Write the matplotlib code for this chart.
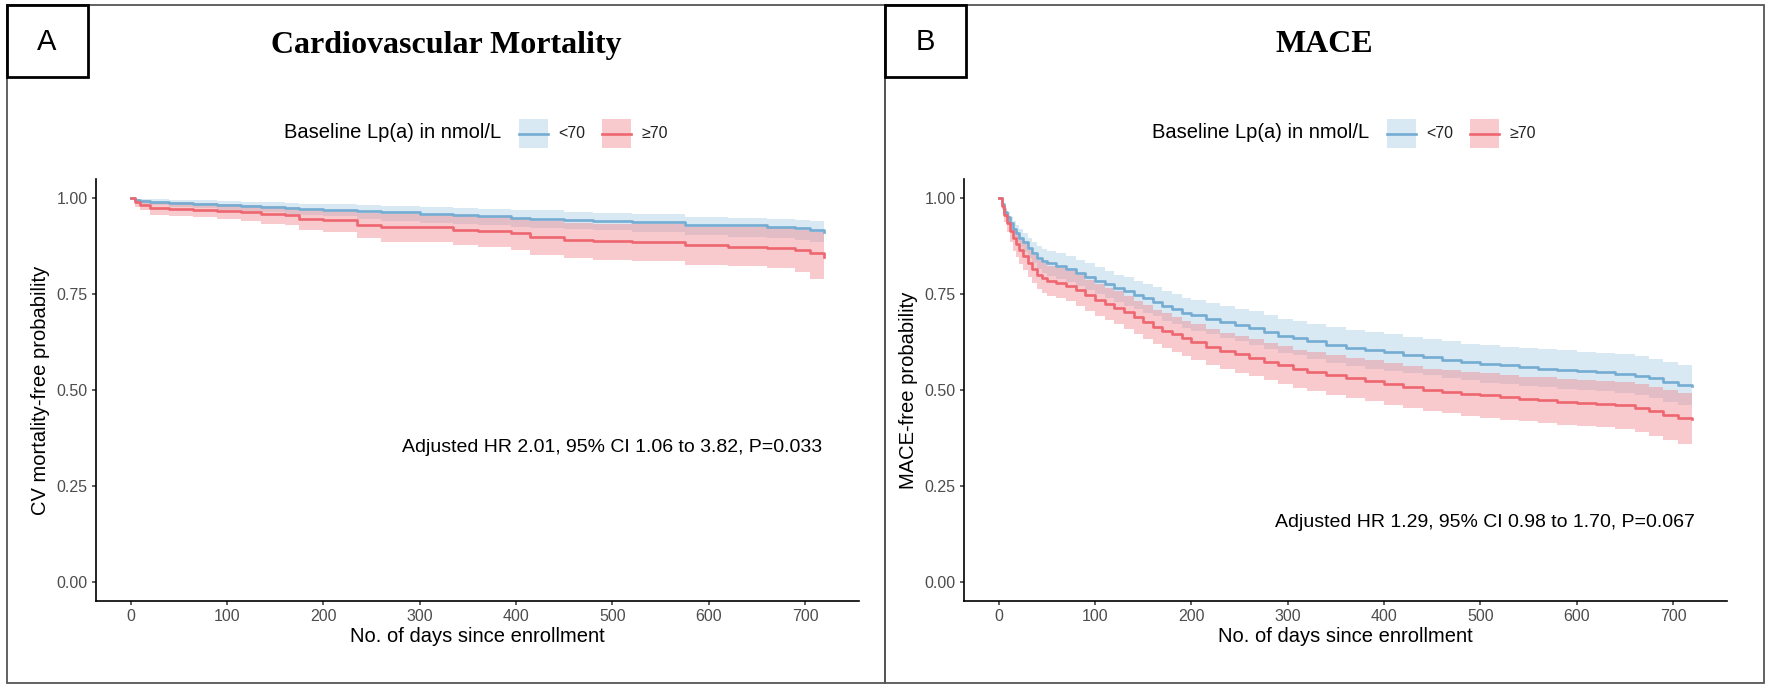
import matplotlib
matplotlib.use("Agg")
import matplotlib.pyplot as plt
from matplotlib.patches import Rectangle
from matplotlib.lines import Line2D
from matplotlib.transforms import Affine2D

plt.rcParams['font.family'] = ['Liberation Sans', 'DejaVu Sans']

W, H = 1772, 690

# --- data (Kaplan-Meier knots) ---
groups = ['<70', '\u226570']
legend_title = 'Baseline Lp(a) in nmol/L'

cv_days = [0, 5, 10, 20, 40, 65, 90, 115, 135, 160, 175, 200, 235, 260, 300, 335,
           360, 395, 415, 450, 480, 520, 575, 620, 660, 690, 705, 720]
cv_lt70 = [1.0, 0.996, 0.993, 0.99, 0.988, 0.985, 0.982, 0.979, 0.977, 0.974, 0.972, 0.97,
           0.966, 0.963, 0.959, 0.956, 0.953, 0.949, 0.947, 0.944, 0.941, 0.937, 0.931,
           0.929, 0.926, 0.923, 0.918, 0.913]
cv_lt70_hi = [1.0, 0.999, 0.998, 0.997, 0.996, 0.994, 0.992, 0.99, 0.989, 0.987, 0.986,
              0.985, 0.982, 0.98, 0.977, 0.975, 0.973, 0.97, 0.968, 0.965, 0.962, 0.958,
              0.952, 0.949, 0.946, 0.943, 0.94, 0.937]
cv_lt70_lo = [1.0, 0.991, 0.986, 0.982, 0.978, 0.974, 0.97, 0.966, 0.963, 0.959, 0.956,
              0.953, 0.946, 0.941, 0.936, 0.932, 0.929, 0.925, 0.923, 0.92, 0.916, 0.911,
              0.904, 0.90, 0.896, 0.892, 0.886, 0.878]
cv_ge70 = [1.0, 0.99, 0.983, 0.975, 0.973, 0.97, 0.967, 0.963, 0.958, 0.956, 0.947, 0.943,
           0.93, 0.924, 0.924, 0.917, 0.914, 0.908, 0.899, 0.892, 0.889, 0.886, 0.878,
           0.874, 0.87, 0.864, 0.856, 0.846]
cv_ge70_hi = [1.0, 0.998, 0.995, 0.99, 0.989, 0.987, 0.985, 0.983, 0.98, 0.978, 0.973,
              0.97, 0.962, 0.958, 0.958, 0.953, 0.951, 0.947, 0.941, 0.936, 0.934, 0.932,
              0.926, 0.924, 0.921, 0.917, 0.911, 0.905]
cv_ge70_lo = [1.0, 0.978, 0.968, 0.957, 0.954, 0.95, 0.946, 0.94, 0.933, 0.93, 0.918,
              0.912, 0.896, 0.887, 0.886, 0.877, 0.873, 0.864, 0.853, 0.844, 0.84, 0.836,
              0.827, 0.822, 0.817, 0.808, 0.79, 0.772]

mace_days = [0, 3, 6, 9, 12, 15, 18, 21, 25, 30, 35, 40, 45, 50, 60, 70, 80, 90, 100,
             110, 120, 130, 140, 150, 160, 170, 180, 190, 200, 215, 230, 245, 260, 275,
             290, 305, 320, 340, 360, 380, 400, 420, 440, 460, 480, 500, 520, 540, 560,
             580, 600, 620, 640, 660, 675, 690, 705, 720]
mace_lt70 = [1.0, 0.985, 0.965, 0.95, 0.935, 0.92, 0.908, 0.897, 0.885, 0.87, 0.857,
             0.845, 0.837, 0.83, 0.823, 0.815, 0.805, 0.795, 0.785, 0.775, 0.765, 0.757,
             0.748, 0.739, 0.73, 0.72, 0.71, 0.702, 0.695, 0.686, 0.678, 0.67, 0.662,
             0.652, 0.642, 0.635, 0.627, 0.618, 0.61, 0.603, 0.598, 0.592, 0.586, 0.579,
             0.573, 0.568, 0.564, 0.56, 0.556, 0.553, 0.55, 0.547, 0.543, 0.537, 0.53,
             0.52, 0.514, 0.511]
mace_lt70_hi = [1.0, 0.991, 0.975, 0.963, 0.951, 0.94, 0.93, 0.92, 0.909, 0.895, 0.885,
                0.875, 0.868, 0.862, 0.856, 0.849, 0.839, 0.83, 0.82, 0.811, 0.801, 0.794,
                0.785, 0.777, 0.768, 0.759, 0.749, 0.741, 0.735, 0.727, 0.719, 0.712,
                0.705, 0.696, 0.686, 0.68, 0.672, 0.664, 0.656, 0.65, 0.645, 0.639,
                0.634, 0.627, 0.621, 0.617, 0.613, 0.609, 0.606, 0.603, 0.6, 0.597,
                0.594, 0.589, 0.582, 0.572, 0.566, 0.563]
mace_lt70_lo = [1.0, 0.978, 0.953, 0.934, 0.916, 0.898, 0.885, 0.873, 0.861, 0.845, 0.83,
                0.815, 0.806, 0.798, 0.79, 0.781, 0.771, 0.761, 0.75, 0.739, 0.729, 0.72,
                0.711, 0.701, 0.692, 0.681, 0.671, 0.662, 0.655, 0.645, 0.636, 0.627,
                0.618, 0.607, 0.597, 0.59, 0.581, 0.571, 0.563, 0.555, 0.55, 0.544,
                0.538, 0.531, 0.525, 0.519, 0.515, 0.511, 0.507, 0.503, 0.50, 0.497,
                0.493, 0.486, 0.478, 0.468, 0.462, 0.459]
mace_ge70 = [1.0, 0.98, 0.957, 0.935, 0.915, 0.895, 0.88, 0.865, 0.848, 0.83, 0.815, 0.80,
             0.792, 0.785, 0.778, 0.771, 0.76, 0.748, 0.735, 0.725, 0.715, 0.703, 0.69,
             0.677, 0.665, 0.655, 0.645, 0.635, 0.625, 0.613, 0.602, 0.593, 0.584, 0.574,
             0.564, 0.555, 0.547, 0.538, 0.532, 0.524, 0.516, 0.508, 0.501, 0.496, 0.49,
             0.486, 0.481, 0.477, 0.474, 0.47, 0.467, 0.464, 0.46, 0.453, 0.445, 0.435,
             0.427, 0.424]
mace_ge70_hi = [1.0, 0.988, 0.971, 0.953, 0.937, 0.922, 0.91, 0.897, 0.882, 0.866, 0.852,
                0.838, 0.83, 0.824, 0.817, 0.81, 0.8, 0.788, 0.776, 0.767, 0.757, 0.745,
                0.733, 0.721, 0.709, 0.7, 0.69, 0.681, 0.671, 0.66, 0.649, 0.641, 0.633,
                0.623, 0.614, 0.605, 0.598, 0.59, 0.584, 0.577, 0.57, 0.562, 0.556,
                0.552, 0.547, 0.544, 0.539, 0.535, 0.533, 0.529, 0.527, 0.524, 0.52,
                0.515, 0.508, 0.499, 0.493, 0.492]
mace_ge70_lo = [1.0, 0.97, 0.939, 0.912, 0.887, 0.863, 0.846, 0.829, 0.812, 0.794, 0.778,
                0.762, 0.754, 0.746, 0.739, 0.732, 0.72, 0.707, 0.694, 0.683, 0.673, 0.66,
                0.647, 0.633, 0.621, 0.61, 0.6, 0.589, 0.579, 0.566, 0.555, 0.545, 0.536,
                0.525, 0.515, 0.505, 0.497, 0.487, 0.48, 0.471, 0.461, 0.453, 0.445,
                0.44, 0.433, 0.428, 0.423, 0.418, 0.415, 0.41, 0.407, 0.403, 0.398, 0.39,
                0.381, 0.37, 0.36, 0.355]

x_ticks = [0, 100, 200, 300, 400, 500, 600, 700]
y_ticks = [0.00, 0.25, 0.50, 0.75, 1.00]

blue, blue_band = '#74acd2', '#7fb7d9'
red, red_band = '#ee6670', '#f27c84'

fig = plt.figure(figsize=(W / 100, H / 100), dpi=100)
px = Affine2D().scale(1 / W, -1 / H).translate(0, 1) + fig.transFigure


def panel(frame_x, frame_w, ax_x, letter, title, ylabel, days, series, note, note_xy):
    # outer frame and letter box
    fig.add_artist(Rectangle((frame_x, 5), frame_w, 678, transform=px, fill=False,
                             edgecolor='#555555', lw=1.3))
    fig.add_artist(Rectangle((frame_x, 5), 81, 72, transform=px, facecolor='white',
                             edgecolor='black', lw=2.0))
    fig.text(frame_x + 40, 42, letter, transform=px, ha='center', va='center', fontsize=21)
    fig.text(frame_x + frame_w / 2, 45, title, transform=px, ha='center', va='center',
             fontsize=23, fontweight='bold', family='Liberation Serif')

    ax = fig.add_axes([ax_x / W, 1 - 601 / H, 763 / W, 422 / H])
    (m1, lo1, hi1), (m2, lo2, hi2) = series
    ax.fill_between(days, lo1, hi1, step='post', color=blue_band, alpha=0.3, lw=0)
    ax.step(days, m1, where='post', color=blue, lw=1.9)
    ax.fill_between(days, lo2, hi2, step='post', color=red_band, alpha=0.4, lw=0)
    ax.step(days, m2, where='post', color=red, lw=1.9)

    ax.set_xlim(-36, 756)
    ax.set_ylim(-0.05, 1.05)
    ax.set_xticks(x_ticks)
    ax.set_yticks(y_ticks)
    ax.set_yticklabels([f'{v:.2f}' for v in y_ticks])
    for s in ['top', 'right']:
        ax.spines[s].set_visible(False)
    for s in ['left', 'bottom']:
        ax.spines[s].set_linewidth(1.2)
    ax.tick_params(length=3, width=1.1, color='#333333', labelcolor='#4d4d4d',
                   labelsize=11.5, pad=3)
    ax.set_xlabel('No. of days since enrollment', fontsize=14.5, labelpad=2)
    ax.set_ylabel(ylabel, fontsize=14.5, labelpad=5)
    ax.text(note_xy[0], note_xy[1], note, ha='center', va='center', fontsize=14)

    # legend drawn above the plot area, centred on the axes
    cx = ax_x + 763 / 2
    fig.text(cx - 193, 133, legend_title, transform=px, ha='left', va='center',
             fontsize=14.5)
    for k, (c, cb, lab) in enumerate([(blue, blue_band, groups[0]), (red, red_band, groups[1])]):
        kx = cx + 42 + k * 83
        fig.add_artist(Rectangle((kx, 119), 29, 29, transform=px, facecolor=cb,
                                 alpha=0.3 if k == 0 else 0.4, lw=0))
        fig.add_artist(Line2D([kx, kx + 29], [133.5, 133.5], transform=px, color=c, lw=1.9))
        fig.text(kx + 39, 133, lab, transform=px, ha='left', va='center', fontsize=11.5,
                 color='#222222')
    return ax


panel(7, 878, 96, 'A', 'Cardiovascular Mortality', 'CV mortality-free probability',
      cv_days, [(cv_lt70, cv_lt70_lo, cv_lt70_hi), (cv_ge70, cv_ge70_lo, cv_ge70_hi)],
      'Adjusted HR 2.01, 95% CI 1.06 to 3.82, P=0.033', (500, 0.35))
panel(885, 879, 964, 'B', 'MACE', 'MACE-free probability',
      mace_days, [(mace_lt70, mace_lt70_lo, mace_lt70_hi),
                  (mace_ge70, mace_ge70_lo, mace_ge70_hi)],
      'Adjusted HR 1.29, 95% CI 0.98 to 1.70, P=0.067', (505, 0.155))

fig.savefig('out.png', dpi=100)
